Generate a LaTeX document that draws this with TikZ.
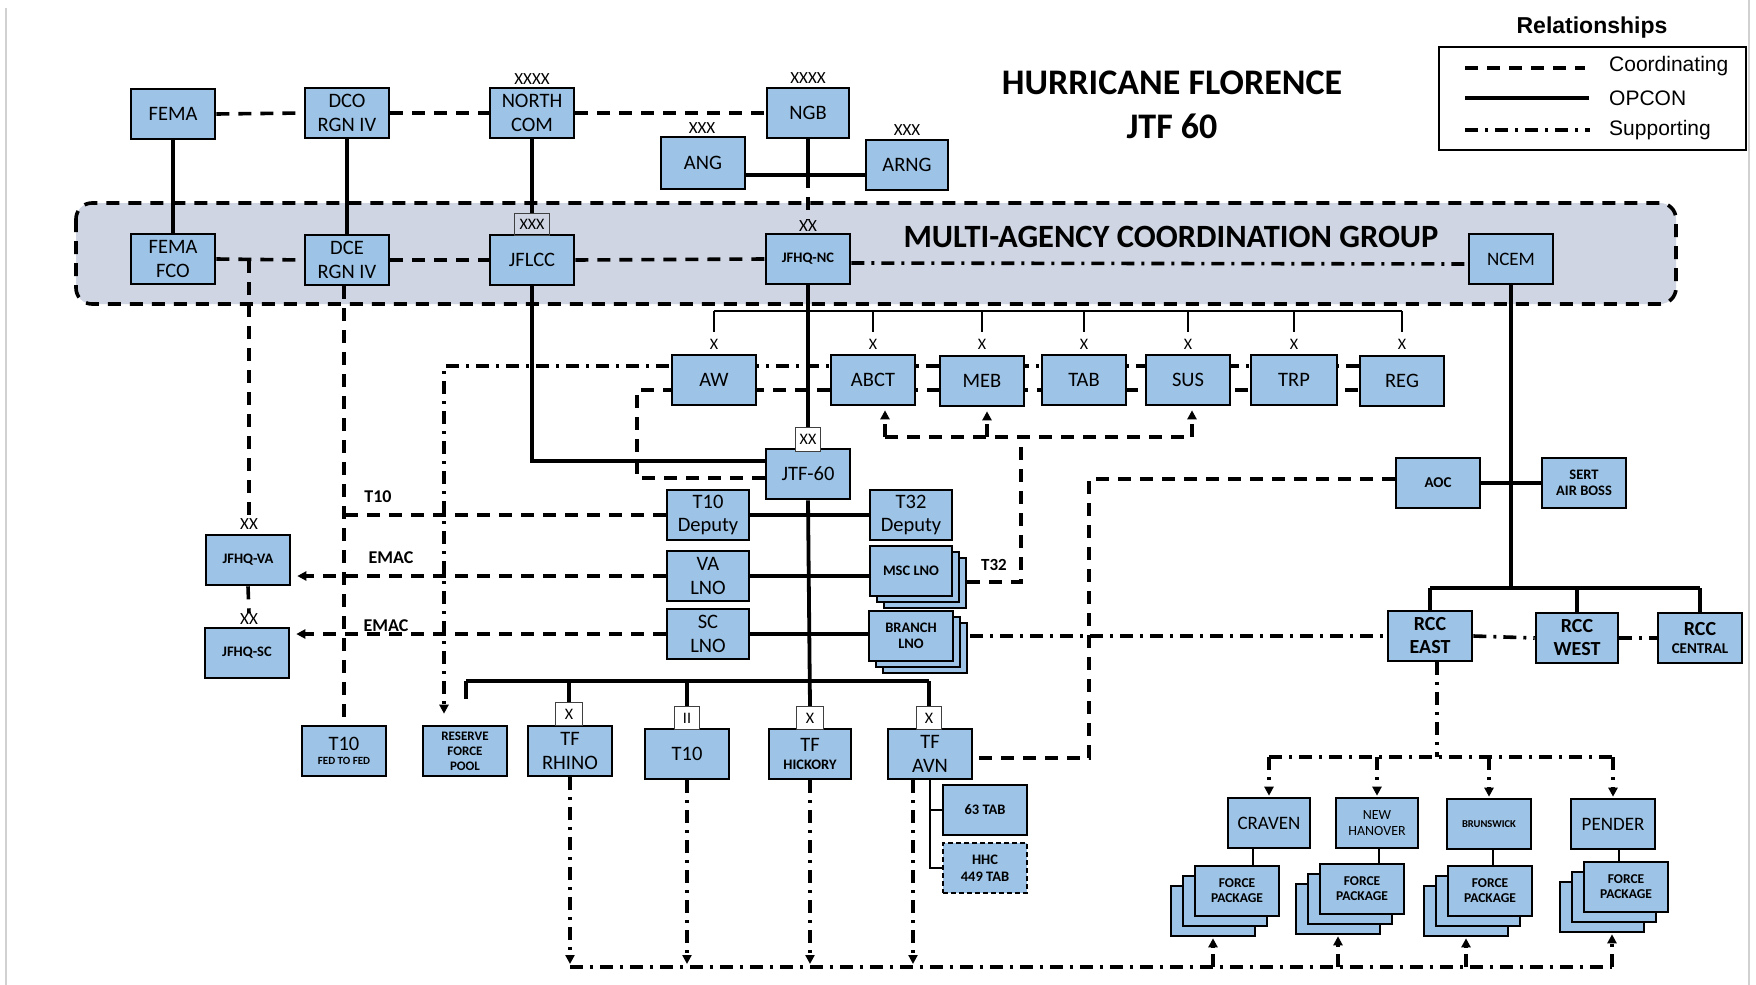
\documentclass[tikz,border=0pt]{standalone}
\usepackage{fontspec}
\setmainfont{Carlito}
\newfontfamily\arialf{Liberation Sans}
\usetikzlibrary{arrows.meta,calc}
\definecolor{boxblue}{RGB}{157,195,230}
\definecolor{macgfill}{RGB}{207,213,226}
\pgfdeclarelayer{back}
\pgfdeclarelayer{mid}
\pgfsetlayers{back,mid,main}
\newcommand\fsz[2]{\fontsize{#1}{#2}\selectfont}
\newcommand\fpstack[3]{%
  \node[ubox] (#1c) at (#2-24,#3+20) {};
  \node[ubox] (#1b) at (#2-12,#3+10) {};
  \node[ubox,font=\bfseries\fsz{13.5}{15}] (#1a) at (#2,#3) {FORCE\\PACKAGE};}
\begin{document}
\begin{tikzpicture}[x=1pt,y=-1pt,
  ubox/.style={draw, line width=2.6pt, fill=boxblue, minimum width=84pt, minimum height=50pt, inner sep=0pt, align=center, font=\fsz{20.5}{23.5}},
  sbox/.style={ubox, font=\bfseries\fsz{14.5}{16.5}},
  tagbox/.style={draw=black!75, line width=1pt, fill=white, minimum width=26pt, minimum height=23pt, inner sep=0pt, font=\fsz{16}{16}},
  lbl/.style={inner sep=0pt, font=\fsz{17}{17}},
  blbl/.style={inner sep=0pt, font=\bfseries\fsz{18}{18}},
  lcoord/.style={line width=3.6pt, dash pattern=on 13pt off 9pt},
  lopcon/.style={line width=3.8pt},
  lthin/.style={line width=2pt},
  lsupp/.style={line width=3.6pt, dash pattern=on 13pt off 7pt on 3pt off 7pt},
  arr/.style={-{Triangle[length=9pt,width=9pt]}},
]
\useasboundingbox (0,0) rectangle (1756,985);
\begin{pgfonlayer}{back}
\fill[white] (0,0) rectangle (1756,985);
\draw[black!18, line width=1.2pt] (6,8) -- (6,985);
\draw[black!18, line width=1.2pt] (1749,0) -- (1749,985);
% ---------- MACG band ----------
\draw[lcoord, fill=macgfill, rounded corners=16pt] (76,203) rectangle (1676,304);
\end{pgfonlayer}
\node[inner sep=0pt, font=\bfseries\fsz{32.5}{32.5}] (macgt) at (1171,237) {MULTI-AGENCY COORDINATION GROUP};

% ---------- title & legend ----------
\node[inner sep=0pt, font=\bfseries\fsz{36}{36}] (title1) at (1172,83) {HURRICANE FLORENCE};
\node[inner sep=0pt, font=\bfseries\fsz{36}{36}] (title2) at (1172,126) {JTF 60};
\node[inner sep=0pt, font=\arialf\bfseries\fsz{23}{23}] (relt) at (1592,28) {Relationships};
\draw[line width=1.5pt] (1439,47) rectangle (1746,150);
\coordinate (lg1a) at (1465,68); \coordinate (lg1b) at (1585,68);
\coordinate (lg2a) at (1465,98); \coordinate (lg2b) at (1589,98);
\coordinate (lg3a) at (1465,130); \coordinate (lg3b) at (1590,130);
\draw[lcoord] (lg1a) -- (lg1b);
\draw[lopcon] (lg2a) -- (lg2b);
\draw[lsupp] (lg3a) -- (lg3b);
\node[anchor=base west, inner sep=0pt, font=\arialf\fsz{21}{21}] (lgt1) at (1609,71) {Coordinating};
\node[anchor=base west, inner sep=0pt, font=\arialf\fsz{21}{21}] (lgt2) at (1609,105) {OPCON};
\node[anchor=base west, inner sep=0pt, font=\arialf\fsz{21}{21}] (lgt3) at (1609,135) {Supporting};

% ---------- top rows ----------
\node[ubox] (fema) at (173,114) {FEMA};
\node[ubox] (dco) at (347,113) {DCO\\RGN IV};
\node[ubox] (north) at (532,113) {NORTH\\COM};
\node[ubox, minimum width=82pt] (ngb) at (808,113) {NGB};
\node[ubox, minimum height=52pt] (ang) at (703,163) {ANG};
\node[ubox, minimum width=82pt] (arng) at (907,165) {ARNG};
\node[lbl] (lnorth) at (532,79) {XXXX};
\node[lbl] (lngb) at (808,78) {XXXX};
\node[lbl] (lang) at (702,128) {XXX};
\node[lbl] (larng) at (907,130) {XXX};

\node[ubox] (femafco) at (173,259) {FEMA\\FCO};
\node[ubox] (dce) at (347,260) {DCE\\RGN IV};
\node[ubox] (jflcc) at (532,260) {JFLCC};
\node[tagbox, fill=none, minimum width=35pt, minimum height=22pt] (xxxj) at (532,224) {XXX};
\node[sbox] (jfhqnc) at (808,259) {JFHQ-NC};
\node[lbl] (xxnc) at (808,226) {XX};
\node[ubox, font=\fsz{19}{22}] (ncem) at (1511,259) {NCEM};

% ---------- brigades ----------
\node[ubox] (aw) at (714,380) {AW};
\node[ubox] (abct) at (873,380) {ABCT};
\node[ubox] (meb) at (982,381) {MEB};
\node[ubox] (tab) at (1084,380) {TAB};
\node[ubox] (sus) at (1188,380) {SUS};
\node[ubox, minimum width=86pt] (trp) at (1294,380) {TRP};
\node[ubox] (reg) at (1402,381) {REG};
\foreach \bx in {aw,abct,meb,tab,sus,trp,reg}
  \node[lbl, font=\fsz{16}{16}] (x\bx) at (\bx.north |- 0,344) {X};

% ---------- JTF-60 group ----------
\node[ubox] (jtf60) at (808,474) {JTF-60};
\node[tagbox, minimum width=25pt, minimum height=24pt] (xxjtf) at (808,439) {XX};
\node[ubox, minimum width=82pt] (t10dep) at (708,515) {T10\\Deputy};
\node[ubox, minimum width=82pt] (t32dep) at (911,515) {T32\\Deputy};
\node[ubox, minimum width=82pt] (valno) at (708,576) {VA\\LNO};
\node[ubox, minimum width=82pt] (sclno) at (708,634) {SC\\LNO};
\node[ubox, minimum width=82pt] (msc3) at (925,583) {};
\node[ubox, minimum width=82pt] (msc2) at (918,577) {};
\node[sbox, minimum width=82pt] (msclno) at (911,571) {MSC LNO};
\node[ubox, minimum width=84pt] (br3) at (925,648) {};
\node[ubox, minimum width=84pt] (br2) at (918,642) {};
\node[sbox, minimum width=84pt] (branch) at (911,636) {BRANCH\\LNO};

% ---------- left ----------
\node[sbox] (jfhqva) at (248,560) {JFHQ-VA};
\node[lbl] (xxva) at (249,524) {XX};
\node[sbox] (jfhqsc) at (247,653) {JFHQ-SC};
\node[lbl] (xxsc) at (249,619) {XX};

% ---------- bottom row ----------
\node[ubox] (t10fed) at (344,751) {T10\\[-9pt]{\bfseries\fsz{11}{12}FED TO FED}};
\node[ubox, font=\bfseries\fsz{13}{15}] (rfp) at (465,751) {RESERVE\\FORCE\\POOL};
\node[ubox] (rhino) at (570,751) {TF\\RHINO};
\node[ubox] (t10) at (687,754) {T10};
\node[ubox, minimum width=82pt] (hickory) at (810,754) {TF\\[-6pt]{\bfseries\fsz{14.5}{16}HICKORY}};
\node[ubox] (avn) at (930,754) {TF\\AVN};
\node[tagbox, minimum width=27pt] (xrhino) at (569,714) {X};
\node[tagbox, minimum width=25pt] (xt10) at (687,718) {II};
\node[tagbox, minimum width=27pt] (xhick) at (810,718) {X};
\node[tagbox, minimum width=25pt] (xavn) at (929,718) {X};
\node[sbox] (tab63) at (985,810) {63 TAB};
\node[sbox, dash pattern=on 5pt off 3pt, line width=2pt] (hhc) at (985,868) {HHC\\449 TAB};

% ---------- right ----------
\node[sbox, font=\bfseries\fsz{15}{16}] (aoc) at (1438,483) {AOC};
\node[sbox] (sert) at (1584,483) {SERT\\AIR BOSS};
\node[ubox, font=\bfseries\fsz{20}{23}] (rcce) at (1430,636) {RCC\\EAST};
\node[ubox, minimum width=82pt, font=\bfseries\fsz{20}{23}] (rccw) at (1577,638) {RCC\\WEST};
\node[ubox, font=\bfseries\fsz{20}{23}] (rccc) at (1700,638) {RCC\\[-5pt]{\fsz{15}{17}CENTRAL}};

\node[ubox, minimum width=82pt, font=\fsz{19}{22}] (craven) at (1269,823) {CRAVEN};
\node[ubox, minimum width=82pt, font=\fsz{14}{15.5}] (newhan) at (1377,823) {NEW\\HANOVER};
\node[ubox, font=\bfseries\fsz{10.5}{12}] (brun) at (1489,824) {BRUNSWICK};
\node[ubox, font=\fsz{19}{22}] (pender) at (1613,824) {PENDER};
\fpstack{fpcr}{1237}{891}
\fpstack{fpnh}{1362}{889}
\fpstack{fpbr}{1490}{891}
\fpstack{fppe}{1626}{887}

% ---------- text labels ----------
\node[blbl] (lt10) at (378,497) {T10};
\node[blbl] (lemac1) at (391,558) {EMAC};
\node[blbl] (lemac2) at (386,626) {EMAC};
\node[blbl, font=\bfseries\fsz{17}{17}] (lt32) at (994,565) {T32};

% ---------- connectors ----------
\begin{pgfonlayer}{mid}
% top coordination
\draw[lcoord] (fema.east) -- (dco.west);
\draw[lcoord] (dco.east) -- (north.west);
\draw[lcoord] (north.east) -- (ngb.west);
\draw[lopcon] (fema.south) -- (femafco.north);
\draw[lopcon] (dco.south) -- (dce.north);
\draw[lopcon] (north.south) -- (xxxj.north);
\coordinate (angj) at (808,175);
\draw[lopcon] (ngb.south) -- (angj);
\draw[lopcon] (ang.east |- angj) -- (arng.west |- angj);
\draw[lcoord] (angj) -- (xxnc.north);
% MACG row
\draw[lcoord] (femafco.east) -- (dce.west);
\draw[lcoord] (dce.east) -- (jflcc.west);
\draw[lcoord] (jflcc.east) -- (jfhqnc.west);
\draw[lsupp] ($(jfhqnc.east)+(0,4)$) -- ($(ncem.west)+(0,5)$);
% FEMA FCO to JFHQ-VA / SC
\coordinate (fvj) at (249,260);
\draw[lcoord] (fvj) -- (xxva.north);
\draw[lcoord] (jfhqva.south) -- (xxsc.north);
% DCE to T10 fed to fed
\draw[lcoord] (dce.south -| t10fed.north) -- (t10fed.north);
\draw[lcoord] (t10dep.west) -- (t10dep.west -| t10fed.north);
% EMAC
\draw[lcoord, arr, shorten >=6pt] (valno.west) -- (valno.west -| jfhqva.east);
\draw[lcoord, arr, shorten >=6pt] (sclno.west) -- (sclno.west -| jfhqsc.east);
% JFLCC to JTF-60
\draw[lopcon] (jflcc.south) |- ($(jtf60.west)+(0,-13)$);
% JFHQ-NC to JTF-60 and brigades
\draw[lopcon] (jfhqnc.south) -- (xxjtf.north);
\draw[lthin] (aw.north |- 0,311) -- (reg.north |- 0,311);
\foreach \bx in {aw,abct,meb,tab,sus,trp,reg}
  \draw[lthin] (\bx.north |- 0,311) -- (\bx.north |- 0,332);
% brigade relationship lines
\coordinate (upL) at (444,366);
\draw[lsupp, arr, shorten >=11pt] (reg.west |- upL) -- (upL) -- (upL |- rfp.north);
\coordinate (lowL) at (637,390);
\draw[lcoord] ($(jtf60.west)+(0,4)$) -| (lowL) -- (lowL -| reg.west);
% T32 support
\coordinate (t32c) at (1021,437);
\coordinate (ta) at (885,437);
\coordinate (tm) at (987,437);
\coordinate (ts) at (1192,437);
\draw[lcoord] ($(msclno.east)+(14,11)$) -| (t32c);
\draw[lcoord] (ta) -- (ts);
\draw[lcoord, arr, shorten >=4pt] (ta) -- (ta |- abct.south);
\draw[lcoord, arr, shorten >=4pt] (tm) -- (tm |- meb.south);
\draw[lcoord, arr, shorten >=4pt] (ts) -- (ts |- sus.south);
% JTF-60 spine
\draw[lopcon] (jtf60.south) -- (xhick.north);
\draw[lopcon] (t10dep.east) -- (t32dep.west);
\draw[lopcon] (valno.east) -- (valno.east -| msclno.west);
\draw[lopcon] (sclno.east) -- (sclno.east -| branch.west);
\coordinate (bb) at (466,681);
\draw[lopcon] (bb) -- (bb -| xavn.north);
\draw[lopcon] (bb) -- (466,699);
\draw[lopcon] (bb -| xrhino.north) -- (xrhino.north);
\draw[lopcon] (bb -| xt10.north) -- (xt10.north);
\draw[lopcon] (bb -| xavn.north) -- (xavn.north);
% AVN subordinates
\draw[lthin] (avn.south) |- (hhc.west);
\draw[lthin] (avn.south |- tab63.west) -- (tab63.west);
% bottom support line
\coordinate (bl) at (570,967);
\coordinate (avd) at (913,967);
\coordinate (per) at (1612,967);
\draw[lsupp] (bl) -- (per);
\draw[lsupp, arr, shorten >=3pt] (rhino.south) -- (bl);
\draw[lsupp, arr, shorten >=3pt] (t10.south) -- (t10.south |- bl);
\draw[lsupp, arr, shorten >=3pt] (hickory.south) -- (hickory.south |- bl);
\draw[lsupp, arr, shorten >=3pt] (avd |- avn.south) -- (avd);
\draw[lsupp, arr, shorten >=1pt] (fpcrc.south |- bl) -- (fpcrc.south);
\draw[lsupp, arr, shorten >=1pt] (fpnhc.south |- bl) -- (fpnhc.south);
\draw[lsupp, arr, shorten >=1pt] (fpbrc.south |- bl) -- (fpbrc.south);
\draw[lsupp, arr, shorten >=1pt] (per) -- (per |- fppec.south);
% AOC to TF AVN
\coordinate (aocc) at (1089,479);
\draw[lcoord] (aoc.west |- aocc) -- (aocc) |- ($(avn.east)+(0,4)$);
% NCEM
\coordinate (rb) at (1511,588);
\draw[lopcon] (ncem.south) -- (rb);
\draw[lopcon] (aoc.east) -- (sert.west);
\draw[lopcon] (rcce.north |- rb) -- (rccc.north |- rb);
\foreach \rx in {rcce,rccw,rccc}
  \draw[lopcon] (\rx.north |- rb) -- (\rx.north);
% RCC support
\draw[lsupp] ($(branch.east)+(16,0)$) -- (rcce.west);
\draw[lsupp] (rcce.east) -- (rccw.west);
\draw[lsupp] (rccw.east) -- (rccc.west);
\coordinate (cb) at (1437,757);
\draw[lsupp] (rcce.south -| cb) -- (cb);
\draw[lsupp] (craven.north |- cb) -- (pender.north |- cb);
\foreach \cx in {craven,newhan,brun,pender}
  \draw[lsupp, arr, shorten >=1pt] (\cx.north |- cb) -- (\cx.north);
% counties to force packages
\draw[lthin] (craven.south) ++(-16,0) -- ++(0,18);
\draw[lthin] (newhan.south) ++(2,0) -- ++(0,16);
\draw[lthin] (brun.south) ++(4,0) -- ++(0,16);
\draw[lthin] (pender.south) ++(6,0) -- ++(0,13);
\end{pgfonlayer}
\end{tikzpicture}
\end{document}
